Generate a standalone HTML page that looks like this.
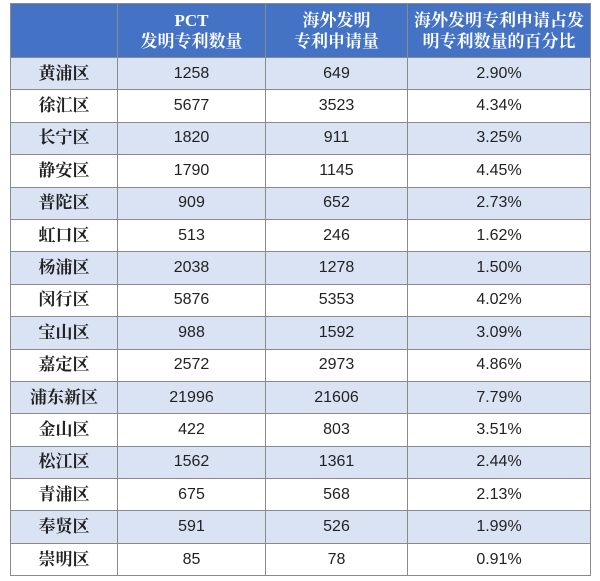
<!DOCTYPE html>
<html><head><meta charset="utf-8"><style>
body{margin:0;background:#fff;width:600px;height:581px;overflow:hidden}
table{position:absolute;left:10px;top:3px;border-collapse:collapse;table-layout:fixed;width:580px}
td,th{border:1px solid #8a8a8a;text-align:center;padding:0;font-family:"Liberation Sans","Noto Sans CJK SC",sans-serif;font-size:16px;color:#222}
th{background:#4472c4;color:#fff;height:53px;font-family:"Liberation Serif","Noto Serif CJK SC",serif;font-weight:bold;font-size:17px;line-height:21px}
td{height:31.4px;line-height:20px}
td:first-child{font-family:"Liberation Serif","Noto Serif CJK SC",serif;font-weight:bold;font-size:17px}
tr:nth-child(even) td{background:#dae3f3}
</style></head><body>
<table>
<colgroup><col style="width:107px"><col style="width:148px"><col style="width:142px"><col style="width:183px"></colgroup>
<tr><th></th><th>PCT<br>发明专利数量</th><th>海外发明<br>专利申请量</th><th>海外发明专利申请占发<br>明专利数量的百分比</th></tr>
<tr><td>黄浦区</td><td>1258</td><td>649</td><td>2.90%</td></tr>
<tr><td>徐汇区</td><td>5677</td><td>3523</td><td>4.34%</td></tr>
<tr><td>长宁区</td><td>1820</td><td>911</td><td>3.25%</td></tr>
<tr><td>静安区</td><td>1790</td><td>1145</td><td>4.45%</td></tr>
<tr><td>普陀区</td><td>909</td><td>652</td><td>2.73%</td></tr>
<tr><td>虹口区</td><td>513</td><td>246</td><td>1.62%</td></tr>
<tr><td>杨浦区</td><td>2038</td><td>1278</td><td>1.50%</td></tr>
<tr><td>闵行区</td><td>5876</td><td>5353</td><td>4.02%</td></tr>
<tr><td>宝山区</td><td>988</td><td>1592</td><td>3.09%</td></tr>
<tr><td>嘉定区</td><td>2572</td><td>2973</td><td>4.86%</td></tr>
<tr><td>浦东新区</td><td>21996</td><td>21606</td><td>7.79%</td></tr>
<tr><td>金山区</td><td>422</td><td>803</td><td>3.51%</td></tr>
<tr><td>松江区</td><td>1562</td><td>1361</td><td>2.44%</td></tr>
<tr><td>青浦区</td><td>675</td><td>568</td><td>2.13%</td></tr>
<tr><td>奉贤区</td><td>591</td><td>526</td><td>1.99%</td></tr>
<tr><td>崇明区</td><td>85</td><td>78</td><td>0.91%</td></tr>
</table>
</body></html>
